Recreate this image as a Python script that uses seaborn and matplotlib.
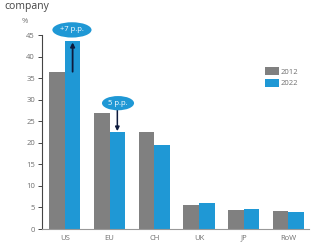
import matplotlib
matplotlib.use("Agg")
import matplotlib.pyplot as plt
import seaborn as sns
import pandas as pd

# data
regions = ["US", "EU", "CH", "UK", "JP", "RoW"]
share_2012 = [36.5, 27.0, 22.4, 5.6, 4.4, 4.2]
share_2022 = [43.6, 22.6, 19.5, 6.0, 4.6, 3.9]
years = ["2012", "2022"]

df = pd.DataFrame({
    "region": regions * 2,
    "value": share_2012 + share_2022,
    "year": [years[0]] * len(regions) + [years[1]] * len(regions),
})

sns.set_style("white")
plt.rcParams["font.family"] = ["Open Sans", "DejaVu Sans"]

grey = "#808080"
blue = "#1f98d5"
txt = "#6f6f6f"

fig = plt.figure(figsize=(3.11, 2.48), dpi=100)
ax = fig.add_axes([0.135, 0.0766, 0.857, 0.782])

sns.barplot(data=df, x="region", y="value", hue="year",
            palette=[grey, blue], width=0.7, gap=0, saturation=1,
            edgecolor="none", ax=ax)

ax.set_xlim(-0.51, 5.45)
ax.set_ylim(0, 45)
ax.set_yticks(range(0, 50, 5))
ax.set_xlabel("")
ax.set_ylabel("")

for s in ["top", "right"]:
    ax.spines[s].set_visible(False)
ax.spines["left"].set_color("#444444")
ax.spines["left"].set_linewidth(0.8)
ax.spines["bottom"].set_color("#999999")
ax.spines["bottom"].set_linewidth(0.8)

ax.tick_params(axis="y", length=3, width=0.7, color="#444444",
               labelsize=5.5, labelcolor=txt, pad=2, left=True)
ax.tick_params(axis="x", length=0, labelsize=5.5, labelcolor=txt, pad=4)

# legend
leg = ax.legend(loc="upper left", bbox_to_anchor=(0.825, 0.85),
                frameon=False, fontsize=5.5, handlelength=1.8,
                handleheight=1.2, handletextpad=0.3, labelspacing=0.4,
                borderaxespad=0)
for t in leg.get_texts():
    t.set_color(txt)

# change annotations
arrow_col = "#0e1b3d"
ax.annotate("", xy=(0.175, 43.3), xytext=(0.175, 36.5),
            arrowprops=dict(arrowstyle="-|>", color=arrow_col, lw=1.3,
                            mutation_scale=6, shrinkA=0, shrinkB=0))
ax.annotate("", xy=(1.175, 22.7), xytext=(1.175, 27.6),
            arrowprops=dict(arrowstyle="-|>", color=arrow_col, lw=1.1,
                            mutation_scale=6, shrinkA=0, shrinkB=0))

ax.text(0.16, 46.2, "+7 p.p.", ha="center", va="center", fontsize=5.5,
        color="white", clip_on=False,
        bbox=dict(boxstyle="ellipse,pad=0.25", fc=blue, ec="none"))
ax.text(1.19, 29.2, "5 p.p.", ha="center", va="center", fontsize=5.5,
        color="white", clip_on=False,
        bbox=dict(boxstyle="ellipse,pad=0.2", fc=blue, ec="none"))

# title line (cut off in the reference) and unit
fig.text(0.015, 0.962, "company", fontsize=7.5, color="#444444",
         ha="left", va="baseline")
fig.text(0.07, 0.915, "%", fontsize=5.5, color=txt, ha="left", va="center")

fig.savefig("out.png", dpi=100)
